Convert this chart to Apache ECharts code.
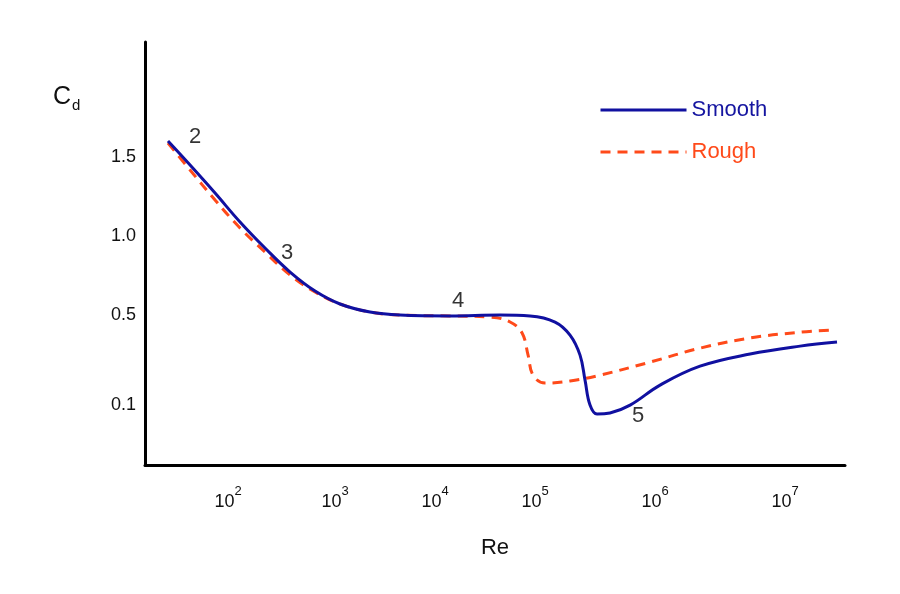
<!DOCTYPE html>
<html><head><meta charset="utf-8">
<script src="https://cdn.jsdelivr.net/npm/echarts@6/dist/echarts.min.js"></script>
<style>html,body{margin:0;background:#fff}#c{width:900px;height:594px}</style>
</head><body><div id="c"></div>
<script>
// x values are log10(Re) as drawn; y values are Cd
const smoothLogRe=[1.441,1.640,1.865,2.090,2.315,2.541,2.766,2.991,3.261,3.532,3.982,4.432,4.703,4.928,5.063,5.153,5.198,5.243,5.306,5.423,5.604,5.874,6.234,6.685,7.135,7.468];
const smoothCd=[1.601,1.449,1.272,1.089,0.924,0.772,0.652,0.570,0.519,0.500,0.496,0.500,0.496,0.469,0.411,0.322,0.211,0.100,0.060,0.065,0.100,0.189,0.273,0.327,0.362,0.380];
const roughLogRe=[1.441,1.640,1.865,2.090,2.315,2.541,2.766,2.991,3.261,3.532,3.982,4.342,4.523,4.631,4.685,4.730,4.838,5.063,5.333,5.784,6.234,6.685,7.135,7.405];
const roughCd=[1.589,1.418,1.228,1.051,0.899,0.753,0.646,0.570,0.519,0.500,0.496,0.491,0.469,0.420,0.322,0.233,0.198,0.207,0.233,0.291,0.353,0.398,0.424,0.433];
const xTickPos=[1.982,2.946,3.847,4.748,5.829,7.0];
const xTickExp=['2','3','4','5','6','7'];
const yTickCd=[0.1,0.5,1.0,1.5];
const notes=['2','3','4','5'];
const noteLogRe=[1.685,2.514,4.054,5.676];
const noteCd=[1.627,0.892,0.589,0.050];
function v(cd){return cd>=0.5?cd:-0.07+(cd-0.1)/0.4*0.57;}
function inv(val){return val>=0.5?val:0.1+(val+0.07)/0.57*0.4;}
const pts=(xs,ys)=>xs.map((x,i)=>[x,v(ys[i])]);
const F='Liberation Sans';
const chart=echarts.init(document.getElementById('c'));
chart.setOption({
  animation:false,
  grid:{left:145,right:55,top:42,bottom:129},
  legend:{orient:'vertical',left:594,top:94,itemWidth:86,itemHeight:14,itemGap:20,
    itemStyle:{opacity:0},lineStyle:{width:3},
    data:[{name:'Smooth',textStyle:{color:'#1515a0'}},{name:'Rough',textStyle:{color:'#ff4a1a'}}],
    textStyle:{fontSize:22,fontFamily:F}},
  graphic:[{type:'text',left:53,top:85,style:{text:'C{s|d}',fontSize:25,fontFamily:F,fill:'#111',
    rich:{s:{fontSize:15,padding:[16,0,0,1]}}}}],
  xAxis:{type:'value',min:1.234,max:7.54,name:'Re',nameLocation:'middle',nameGap:72,
    nameTextStyle:{fontSize:22,fontFamily:F,color:'#111'},
    axisLine:{onZero:false,lineStyle:{color:'#000',width:3}},axisTick:{show:false},splitLine:{show:false},
    axisLabel:{customValues:xTickPos,margin:16,color:'#111',fontFamily:F,
      formatter:x=>'{b|10}{s|'+xTickExp[xTickPos.findIndex(p=>Math.abs(p-x)<1e-6)]+'}',
      rich:{b:{fontSize:18,padding:[12,0,0,0]},s:{fontSize:13,padding:[0,0,10,0]}}}},
  yAxis:{type:'value',min:-0.449,max:2.228,
    axisLine:{show:true,onZero:false,lineStyle:{color:'#000',width:3}},axisTick:{show:false},splitLine:{show:false},
    axisLabel:{customValues:yTickCd.map(v),margin:9,fontSize:18,color:'#111',fontFamily:F,
      formatter:val=>inv(val).toFixed(1)}},
  series:[
    {name:'Smooth',type:'line',smooth:0.4,symbol:'none',data:pts(smoothLogRe,smoothCd),
      lineStyle:{color:'#1010a0',width:3},itemStyle:{color:'#1010a0'},z:3},
    {name:'Rough',type:'line',smooth:0.4,symbol:'none',data:pts(roughLogRe,roughCd),
      lineStyle:{color:'#ff4a1a',width:3,type:[10,7]},itemStyle:{color:'#ff4a1a'},z:2},
    {type:'scatter',symbolSize:0,silent:true,data:noteLogRe.map((x,i)=>({value:[x,v(noteCd[i])],name:notes[i]})),
      label:{show:true,position:'inside',formatter:p=>p.name,fontSize:22,color:'#000',fontFamily:F}}
  ]
});
</script></body></html>
